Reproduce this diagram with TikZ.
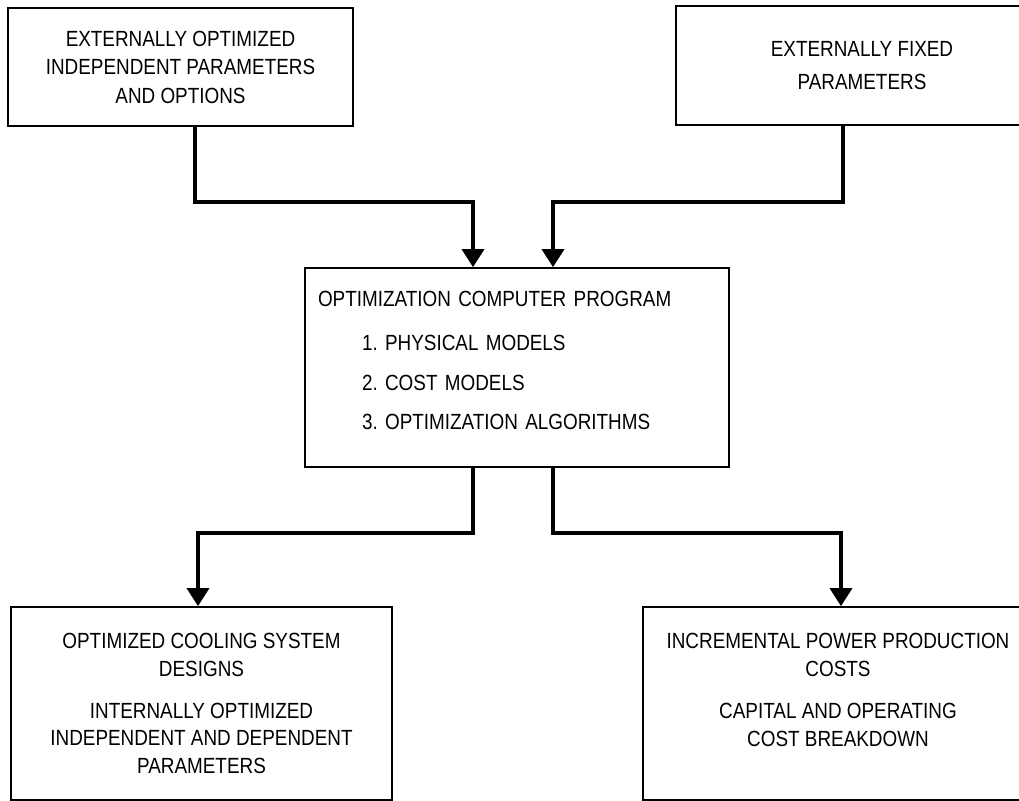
\documentclass[tikz,border=0pt]{standalone}
\usepackage{fontspec}
\setmainfont{Liberation Sans}[FakeStretch=0.86]
\usetikzlibrary{arrows.meta}

\begin{document}
\begin{tikzpicture}[x=0.02cm,y=-0.02cm,
    box/.style={draw, line width=1pt, align=center, inner sep=0pt,
                font=\fontsize{12.5}{15}\selectfont},
    flow/.style={line width=2pt, -{Triangle[width=0.44cm,length=0.36cm]}}]
                                    % Fix the page size
                                    \useasboundingbox (0,0) rectangle (1019,801);

                                    % Draw the input boxes
                                    \node[box, minimum width=6.9cm, minimum height=2.36cm] (extopt) at (180.5,67)
                                        {EXTERNALLY OPTIMIZED\\[1.2pt] INDEPENDENT PARAMETERS\\[1.2pt] AND OPTIONS};
                                    \node[box, minimum width=7.44cm, minimum height=2.38cm] (extfix) at (862,65.5)
                                        {EXTERNALLY FIXED\\[3.7pt] PARAMETERS};

                                    % Draw the program box
                                    \node[box, align=left, text width=7.96cm, inner xsep=0.26cm, minimum height=3.98cm] (prog) at (517,367.5)
                                        {OPTIMIZATION COMPUTER PROGRAM\\[10pt]
                                         \hspace*{0.88cm}1.\ PHYSICAL MODELS\\[7.7pt]
                                         \hspace*{0.88cm}2.\ COST MODELS\\[7.7pt]
                                         \hspace*{0.88cm}3.\ OPTIMIZATION ALGORITHMS\\[-7pt]\mbox{}};

                                    % Draw the output boxes
                                    \node[box, minimum width=7.62cm, minimum height=3.86cm] (designs) at (201.5,703.5)
                                        {OPTIMIZED COOLING SYSTEM\\[0.9pt] DESIGNS\\[8.8pt]
                                         INTERNALLY OPTIMIZED\\[0.9pt] INDEPENDENT AND DEPENDENT\\[0.9pt] PARAMETERS};
                                    \node[box, minimum width=7.8cm, minimum height=3.86cm] (costs) at (838,703.5)
                                        {INCREMENTAL POWER PRODUCTION\\[0.9pt] COSTS\\[8.8pt]
                                         CAPITAL AND OPERATING\\[0.9pt] COST BREAKDOWN\\[0.9pt]\mbox{}};

                                    % Draw the arrows
                                    \draw[flow] ([xshift=0.29cm]extopt.south) -- ++(0,75) -| ([xshift=-0.88cm]prog.north);
                                    \draw[flow] ([xshift=-0.38cm]extfix.south) -- ++(0,76) -| ([xshift=0.72cm]prog.north);
                                    \draw[flow] ([xshift=-0.88cm]prog.south) -- ++(0,65) -| ([xshift=-0.07cm]designs.north);
                                    \draw[flow] ([xshift=0.72cm]prog.south) -- ++(0,65) -| ([xshift=0.06cm]costs.north);
\end{tikzpicture}
\end{document}
